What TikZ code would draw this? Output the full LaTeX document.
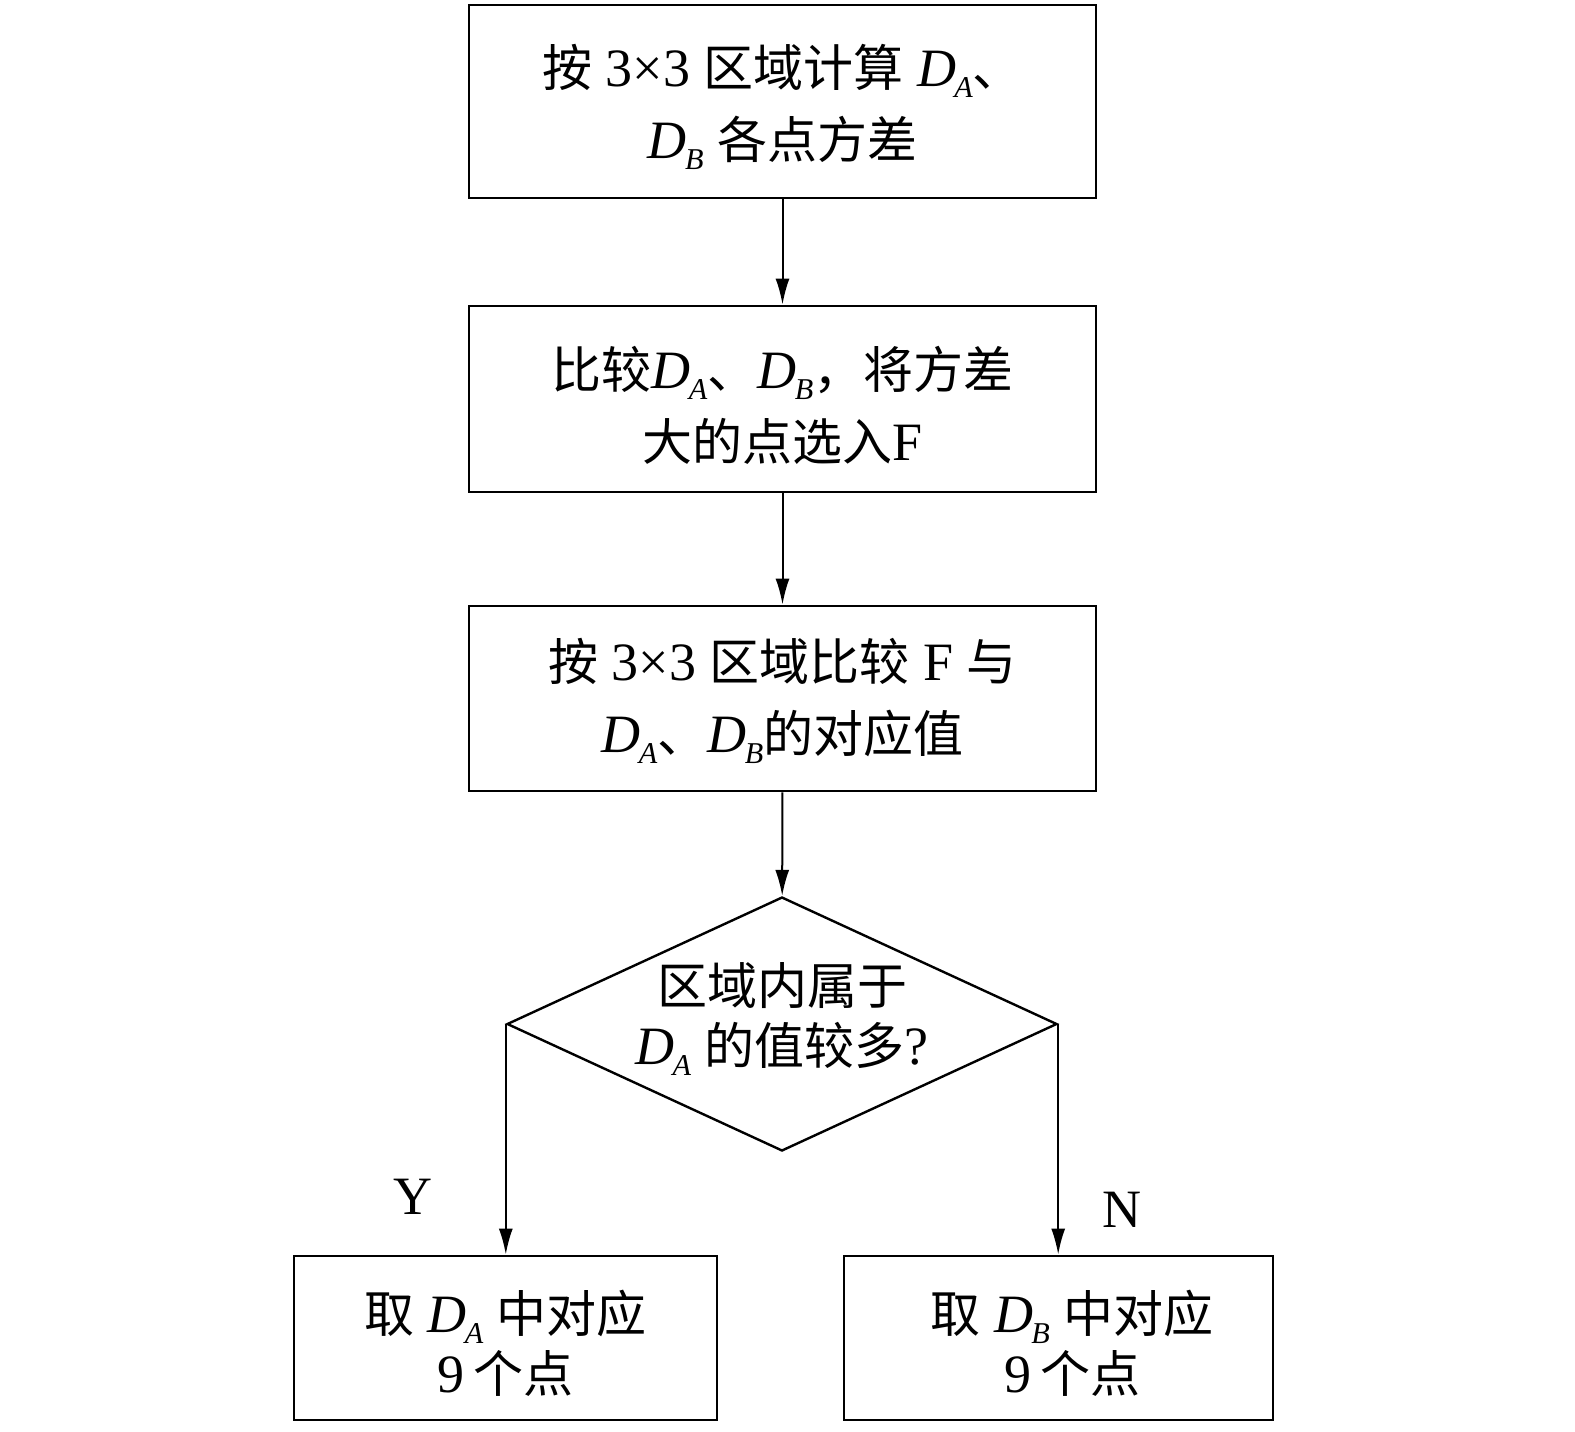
\documentclass[tikz,border=0pt]{standalone}
\usepackage{fontspec}
\setmainfont[Scale=1.08]{Liberation Serif}
\newfontfamily\cjk{Noto Sans CJK SC}
\usetikzlibrary{arrows.meta,shapes.geometric}
\newcommand\subI[1]{\kern-0.03em\raisebox{-0.45ex}{\fontsize{14}{14}\selectfont\textit{#1}}}
\newcommand\DA{\textit{D}\subI{A}}
\newcommand\DB{\textit{D}\subI{B}}
\begin{document}
\begin{tikzpicture}[x=0.5pt,y=-0.5pt,
  box/.style={draw,line width=1.4pt,rectangle,inner sep=0pt},
  dia/.style={draw,line width=1.2pt,diamond,inner sep=0pt,
    minimum width=275pt,minimum height=127pt},
  txt/.style={align=center,inner sep=0pt,font=\fontsize{25}{36}\selectfont},
  txts/.style={align=center,inner sep=0pt,font=\fontsize{25}{30}\selectfont},
  lab/.style={font=\fontsize{25}{30}\selectfont},
  arr/.style={line width=1pt,-{Latex[length=13pt,width=7pt]}}]
\useasboundingbox (0,0) rectangle (1575,1431);
\node[box,minimum width=313.5pt,minimum height=96.5pt] (b1) at (782.5,101.5) {};
\node[txt] (t1) at (782.5,107)
  {{\cjk 按} 3×3 {\cjk 区域计算} \DA{\cjk 、}\\ \DB\ {\cjk 各点方差}};
\node[box,minimum width=313.5pt,minimum height=93pt] (b2) at (782.5,399) {};
\node[txt] (t2) at (782.5,405)
  {{\cjk 比较}\DA{\cjk 、}\DB{\cjk ，将方差}\\ {\cjk 大的点选入}F};
\node[box,minimum width=313.5pt,minimum height=92.5pt] (b3) at (782.5,698.5) {};
\node[txt] (t3) at (782.5,701)
  {{\cjk 按} 3×3 {\cjk 区域比较} F {\cjk 与}\\ \DA{\cjk 、}\DB{\cjk 的对应值}};
\node[dia] (d) at (782,1024) {};
\node[txts] (dt) at (782,1019) {{\cjk 区域内属于}\\ \DA\ {\cjk 的值较多}?};
\node[box,minimum width=211.5pt,minimum height=82pt] (b4) at (505.5,1338) {};
\node[txts] (t4) at (505.5,1343) {{\cjk 取} \DA\ {\cjk 中对应}\\ 9\,{\cjk 个点}};
\node[box,minimum width=214.5pt,minimum height=82pt] (b5) at (1058.5,1338) {};
\node[txts] (t5) at (1072,1343) {{\cjk 取} \DB\ {\cjk 中对应}\\ 9\,{\cjk 个点}};
\draw[arr] (b1) -- (b2);
\draw[arr] (b2) -- (b3);
\draw[arr] (b3) -- (d);
\draw[arr] (d.west) -- (d.west |- b4.north);
\draw[arr] (d.east) -- (d.east |- b5.north);
\node[lab] (y) at (413,1197) {Y};
\node[lab] (n) at (1122,1210) {N};
\end{tikzpicture}
\end{document}
